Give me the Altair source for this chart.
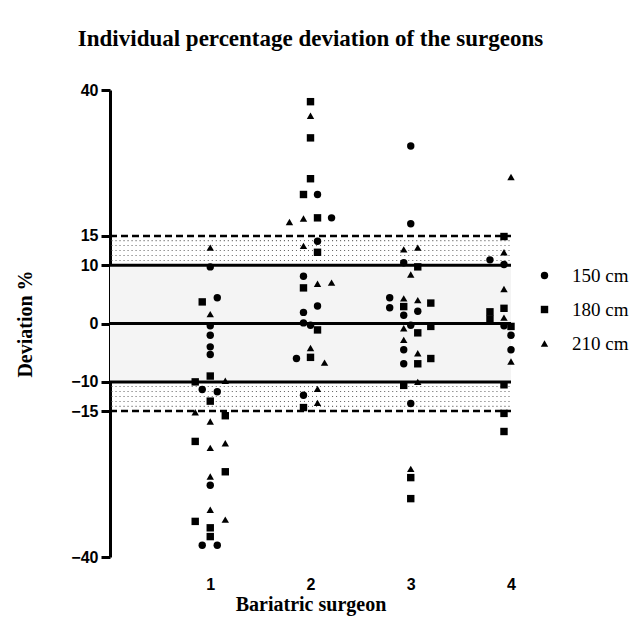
import altair as alt
import pandas as pd
import numpy as np

# ---- data (x = surgeon position incl. jitter, y = deviation %) ----
series_names = ["150 cm", "180 cm", "210 cm"]
surgeon_ticks = [1, 2, 3, 4]
y_ticks = [-40, -15, -10, 0, 10, 15, 40]

x150 = [1.0, 1.07, 1.0, 1.0, 1.0, 1.0, 0.92, 1.07, 1.0, 0.92, 1.07,
        2.07, 2.21, 2.07, 1.93, 2.07, 1.93, 1.93, 2.0, 1.86, 1.93,
        3.0, 3.0, 2.93, 2.79, 2.79, 3.07, 2.93, 3.0, 2.93, 2.93, 3.0,
        3.79, 3.93, 3.93, 4.0, 4.0]
y150 = [9.7, 4.4, -0.4, -2.0, -4.0, -5.3, -11.3, -11.7, -27.7, -38.0, -38.0,
        22.1, 18.1, 14.1, 8.1, 3.0, 1.9, 0.1, -0.3, -6.0, -12.3,
        30.4, 17.1, 10.4, 4.4, 2.7, 2.1, 1.4, -0.3, -4.5, -6.9, -13.7,
        10.9, 10.1, -0.4, -2.0, -4.5]

x180 = [0.92, 1.0, 0.85, 1.0, 1.15, 0.85, 1.15, 0.85, 1.0, 1.0,
        2.0, 2.0, 2.0, 1.93, 2.07, 2.07, 1.93, 2.07, 2.0, 1.93,
        3.07, 3.2, 2.93, 3.2, 3.07, 3.2, 3.07, 2.93, 3.0, 3.0,
        3.93, 3.93, 3.79, 3.79, 4.0, 3.93, 3.93, 3.93]
y180 = [3.7, -9.0, -10.0, -13.3, -15.8, -20.2, -25.4, -33.9, -35.0, -36.5,
        38.0, 31.8, 24.8, 22.1, 18.1, 12.2, 6.1, -1.1, -5.8, -14.4,
        9.7, 3.5, 2.9, -0.5, -1.6, -6.0, -6.9, -10.6, -26.4, -30.0,
        14.9, 2.6, 2.0, 0.8, -0.5, -10.5, -15.4, -18.5]

x210 = [1.0, 1.0, 1.15, 0.85, 1.0, 1.15, 1.0, 1.0, 1.0, 1.15,
        2.0, 1.79, 1.93, 1.93, 2.07, 2.21, 2.0, 2.14, 2.07, 2.07,
        2.93, 3.07, 3.0, 2.93, 3.07, 2.93, 2.93, 3.07, 3.07, 3.0,
        4.0, 3.93, 3.93, 3.93, 4.0]
y210 = [13.0, 1.6, -9.8, -15.2, -16.8, -20.5, -21.3, -26.2, -31.9, -33.6,
        35.6, 17.4, 18.0, 13.3, 6.8, 7.0, -4.2, -6.7, -11.2, -13.6,
        12.7, 13.0, 8.4, 4.3, 4.0, -0.8, -2.8, -5.1, -10.0, -24.9,
        25.1, 12.2, 5.9, 1.0, -6.5]

solid_levels = [10, 0, -10]
dashed_levels = [15, -15]
inner_band = [(-10, 10)]

# ---- tables ----
rows = []
for name, xs, ys in zip(series_names, [x150, x180, x210], [y150, y180, y210]):
    for xv, yv in zip(xs, ys):
        rows.append({"x": xv, "y": yv, "Height": name})
points_df = pd.DataFrame(rows)

x_lo, x_hi = 0, 4
solid_df = pd.DataFrame({"y": solid_levels, "x": x_lo, "x2": x_hi})
dashed_df = pd.DataFrame({"y": dashed_levels, "x": x_lo, "x2": x_hi})
inner_df = pd.DataFrame({"y": [b[0] for b in inner_band], "y2": [b[1] for b in inner_band],
                         "x": x_lo, "x2": x_hi})

# stipple texture for the 10-15 % zones
stip_rows = [14.2, 13.35, 12.5, 11.65, 10.8]
stip_cols = np.arange(0.02, 4.0, 0.04)
stip_df = pd.DataFrame([{"x": c, "y": s * r} for s in (1, -1) for r in stip_rows for c in stip_cols])

# ---- encodings ----
X = alt.X("x:Q", scale=alt.Scale(domain=[x_lo, x_hi], nice=False, zero=False),
          axis=alt.Axis(values=surgeon_ticks, title="Bariatric surgeon", domain=False, ticks=False,
                        grid=False, labelPadding=19, labelFlush=False,
                        labelFont="Liberation Sans", labelFontWeight="bold", labelFontSize=16,
                        labelColor="black", titleFont="Liberation Serif", titleFontSize=20,
                        titleFontWeight="bold", titleColor="black", titlePadding=2))
Y = alt.Y("y:Q", scale=alt.Scale(domain=[-40, 40], nice=False, zero=False),
          axis=alt.Axis(values=y_ticks, title="Deviation %", grid=False, domainWidth=3,
                        domainColor="black", tickWidth=3, tickSize=9, tickColor="black",
                        labelPadding=3, labelOverlap=False, labelFlush=False,
                        labelFont="Liberation Sans", labelFontWeight="bold", labelFontSize=16,
                        labelColor="black", titleFont="Liberation Serif", titleFontSize=20,
                        titleFontWeight="bold", titleColor="black", titlePadding=35))

inner = alt.Chart(inner_df).mark_rect(color="#f4f4f4").encode(x=X, x2="x2:Q", y=Y, y2="y2:Q")
stipple = alt.Chart(stip_df).mark_square(size=1.1, color="#666666", opacity=1).encode(x=X, y=Y)

points = alt.Chart(points_df).mark_point(filled=True, color="black", size=55, opacity=1).encode(
    x=X, y=Y,
    shape=alt.Shape("Height:N",
                    scale=alt.Scale(domain=series_names, range=["circle", "square", "triangle-up"]),
                    legend=alt.Legend(orient="none", legendX=425, legendY=176, title=None,
                                      labelFont="Liberation Serif", labelFontSize=19,
                                      labelColor="black", symbolSize=55,
                                      symbolFillColor="black", symbolStrokeColor="black",
                                      symbolStrokeWidth=0, labelOffset=18, rowPadding=14,
                                      padding=0)),
)

solid = alt.Chart(solid_df).mark_rule(color="black", strokeWidth=3).encode(x=X, x2="x2:Q", y=Y)
dashed = alt.Chart(dashed_df).mark_rule(color="black", strokeWidth=2.5, strokeDash=[7, 4]).encode(
    x=X, x2="x2:Q", y=Y)

chart = alt.layer(inner, stipple, points, solid, dashed).properties(
    width=401, height=467,
    autosize=alt.AutoSizeParams(type="none"),
    padding={"left": 102, "top": 82, "right": 120, "bottom": 59},
    title=alt.TitleParams("Individual percentage deviation of the surgeons",
                          font="Liberation Serif", fontSize=23, fontWeight="bold",
                          color="black", anchor="middle", offset=31),
    background="white",
).configure_view(stroke=None)

chart.save("out.html", embed_options={"renderer": "svg", "actions": False})
